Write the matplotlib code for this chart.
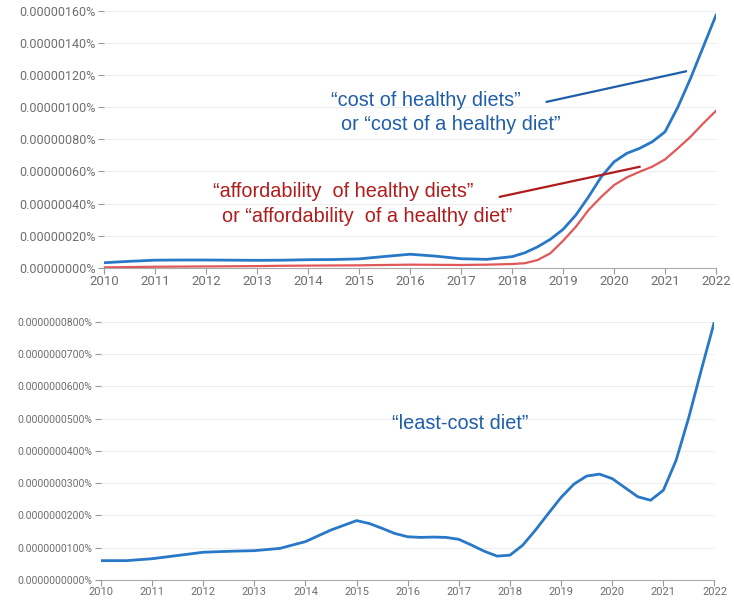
import matplotlib
matplotlib.use("Agg")
import matplotlib.pyplot as plt

# years read at quarter/half-year steps off the reference
top_years = [2010, 2010.5, 2011, 2011.5, 2012, 2012.5, 2013, 2013.5, 2014, 2014.5,
             2015, 2015.5, 2016, 2016.5, 2017, 2017.5, 2018, 2018.25, 2018.5, 2018.75,
             2019, 2019.25, 2019.5, 2019.75, 2020, 2020.25, 2020.5, 2020.75,
             2021, 2021.25, 2021.5, 2021.75, 2022]
# values in units of 1e-8 %
cost_healthy = [3.1, 4.0, 4.7, 4.8, 4.8, 4.7, 4.6, 4.7, 5.0, 5.1,
                5.5, 7.0, 8.4, 7.2, 5.6, 5.2, 6.9, 9.3, 13.0, 17.7,
                23.9, 32.8, 44.2, 56.7, 66.0, 71.3, 74.4, 78.5,
                84.7, 100.0, 118.0, 137.7, 157.4]
afford_healthy = [0.2, 0.4, 0.6, 0.7, 0.8, 0.9, 1.0, 1.2, 1.3, 1.4,
                  1.5, 1.7, 1.9, 1.8, 1.7, 1.9, 2.3, 2.8, 4.8, 9.0,
                  16.8, 25.5, 36.0, 44.2, 51.5, 56.3, 59.8, 63.0,
                  67.5, 74.4, 81.6, 90.0, 97.8]

bot_years = [2010, 2010.5, 2011, 2011.5, 2012, 2012.5, 2013, 2013.5, 2014, 2014.5,
             2015, 2015.25, 2015.5, 2015.75, 2016, 2016.25, 2016.5, 2016.75,
             2017, 2017.25, 2017.5, 2017.75, 2018, 2018.25, 2018.5, 2018.75,
             2019, 2019.25, 2019.5, 2019.75, 2020, 2020.25, 2020.5, 2020.75,
             2021, 2021.25, 2021.5, 2021.75, 2022]
# values in units of 1e-9 %
least_cost = [6.0, 6.0, 6.6, 7.6, 8.6, 8.9, 9.1, 9.8, 11.9, 15.5,
              18.4, 17.5, 16.0, 14.4, 13.4, 13.2, 13.3, 13.2,
              12.6, 10.8, 8.9, 7.4, 7.7, 10.8, 15.5, 20.6,
              25.6, 29.7, 32.2, 32.8, 31.4, 28.6, 25.8, 24.7,
              27.8, 37.1, 50.5, 65.5, 80.1]

top_yticks = [0, 20, 40, 60, 80, 100, 120, 140, 160]
bot_yticks = [0, 10, 20, 30, 40, 50, 60, 70, 80]
year_ticks = list(range(2010, 2023))

BLUE = "#2878c8"
RED = "#e05858"
TXT_BLUE = "#1f5ea8"
TXT_RED = "#b01c1c"
GREY = "#6e6e6e"

fig = plt.figure(figsize=(7.34, 6.02), dpi=100)
ax1 = fig.add_axes([0.1421, 0.5553, 0.8334, 0.4264])
ax2 = fig.add_axes([0.1376, 0.0365, 0.8358, 0.4291])


def style_axis(ax, yticks, fmt, ysize, yfamily):
    ax.set_xlim(2010, 2022)
    ax.set_ylim(yticks[0], yticks[-1])
    ax.set_yticks(yticks)
    ax.set_yticklabels([fmt(v) for v in yticks], fontsize=ysize, color=GREY,
                       family=yfamily)
    ax.set_xticks(year_ticks)
    ax.set_xticklabels([str(y) for y in year_ticks], fontsize=ysize + 0.5,
                       color=GREY, family=yfamily)
    for s in ["top", "right", "left"]:
        ax.spines[s].set_visible(False)
    ax.spines["bottom"].set_color("#aaaaaa")
    ax.tick_params(axis="y", length=4, width=0.8, color="#999999", pad=2)
    ax.tick_params(axis="x", length=4, width=0.8, color="#999999", pad=1)
    ax.grid(axis="y", color="#eeeeee", linewidth=0.8)
    ax.set_axisbelow(True)


style_axis(ax1, top_yticks, lambda v: f"{v * 1e-8:.8f}%", 9, "Roboto")
style_axis(ax2, bot_yticks, lambda v: f"{v * 1e-9:.10f}%", 7.5, "Roboto")

ax1.plot(top_years, afford_healthy, color=RED, linewidth=1.6)
ax1.plot(top_years, cost_healthy, color=BLUE, linewidth=2.0)
ax2.plot(bot_years, least_cost, color=BLUE, linewidth=2.0)

# labels + pointer lines
tfont = dict(family="Liberation Sans", fontsize=14.3, va="center", ha="left")
ax1.text(2014.45, 104.0, "“cost of healthy diets”", color=TXT_BLUE, **tfont)
ax1.text(2014.64, 89.5, "or “cost of a healthy diet”", color=TXT_BLUE, **tfont)
ax1.plot([2018.68, 2021.41], [103.4, 122.4], color=TXT_BLUE, linewidth=1.6)

ax1.text(2012.13, 47.5, "“affordability  of healthy diets”", color=TXT_RED, **tfont)
ax1.text(2012.31, 32.0, "or “affordability  of a healthy diet”", color=TXT_RED, **tfont)
ax1.plot([2017.76, 2020.50], [44.2, 62.9], color=TXT_RED, linewidth=1.6)

ax2.text(2015.70, 48.6, "“least-cost diet”", color=TXT_BLUE, **tfont)

fig.savefig("out.png", dpi=100)
